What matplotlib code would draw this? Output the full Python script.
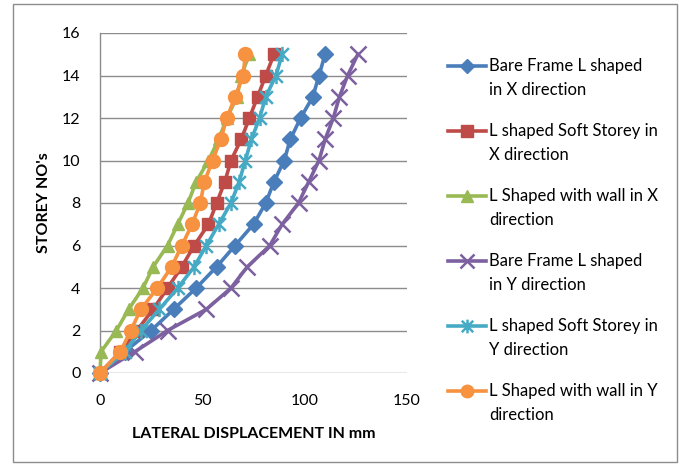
import matplotlib
matplotlib.use("Agg")
import matplotlib.pyplot as plt
from matplotlib.patches import Rectangle
from matplotlib.lines import Line2D
from matplotlib.path import Path

plt.rcParams['font.family'] = ['Lato', 'DejaVu Sans']

storeys = list(range(16))

bare_x = [0, 12, 25, 36, 47, 57, 66, 75, 81, 85, 90, 93, 98, 104, 107, 110]
soft_x = [0, 10, 18, 26, 33, 40, 46, 53, 57, 61, 64, 69, 73, 77, 81, 85]
wall_x = [0, 0.5, 8, 14, 21, 26, 33, 38, 43, 47, 53, 58, 62, 67, 69, 73]
bare_y = [0, 17, 33, 52, 64, 72, 83, 89, 97, 102, 107, 110, 114, 117, 121, 126]
soft_y = [0, 12, 20, 29, 38, 46, 52, 58, 64, 68, 71, 74, 78, 81, 86, 89]
wall_y = [0, 10, 15, 20, 28, 35, 40, 45, 49, 51, 55, 59, 62, 66, 70, 71]

labels = [
    ("Bare Frame L shaped", "in X direction"),
    ("L shaped Soft Storey in", "X direction"),
    ("L Shaped with wall in X", "direction"),
    ("Bare Frame L shaped", "in Y direction"),
    ("L shaped Soft Storey in", "Y direction"),
    ("L Shaped with wall in Y", "direction"),
]

x_ticks = [0, 50, 100, 150]
y_ticks = list(range(0, 17, 2))

# star marker: an x with a vertical stroke through it
star = Path([(-1, -1), (1, 1), (-1, 1), (1, -1), (0, -1.2), (0, 1.2)],
            [Path.MOVETO, Path.LINETO, Path.MOVETO, Path.LINETO,
             Path.MOVETO, Path.LINETO])

series = [bare_x, soft_x, wall_x, bare_y, soft_y, wall_y]
colors = ['#4A7EBB', '#BE4B48', '#98B954', '#7D60A0', '#46AAC5', '#F69240']
markers = ['D', 's', '^', 'x', star, 'o']
msizes = [8, 9, 9, 11, 11, 10]
thin = ['x', 'star']

W, H = 683, 466
fig = plt.figure(figsize=(W / 100, H / 100), dpi=100)
ax = fig.add_axes([100 / W, 93 / H, 307 / W, 340 / H])


def marker_style(c, m, ms):
    stroke = (m is star) or (m == 'x')
    return dict(marker=m, markersize=ms,
                markeredgewidth=1.8 if stroke else 1.0,
                markeredgecolor=c, markerfacecolor=c)


for vals, c, m, ms in zip(series, colors, markers, msizes):
    ax.plot(vals, storeys, color=c, lw=2.6, clip_on=False, zorder=3,
            **marker_style(c, m, ms))

ax.set_xlim(0, 150)
ax.set_ylim(0, 16)
ax.set_xticks(x_ticks)
ax.set_yticks(y_ticks)
ax.tick_params(axis='both', length=0, labelsize=11.5, colors='#000000')
ax.tick_params(axis='x', pad=15)
ax.tick_params(axis='y', pad=14)
ax.yaxis.grid(True, color='#8c8c8c', lw=1)
ax.set_axisbelow(True)
for s in ['top', 'right', 'bottom']:
    ax.spines[s].set_visible(False)
ax.spines['left'].set_color('#8c8c8c')
ax.spines['left'].set_linewidth(1)

ax.set_xlabel("LATERAL DISPLACEMENT IN mm", fontsize=11.5, fontweight='bold', labelpad=14)
ax.set_ylabel("STOREY NO's", fontsize=11.5, fontweight='bold', labelpad=8)

# legend beside the plot, each handle level with the first text line
for i, ((l1, l2), c, m, ms) in enumerate(zip(labels, colors, markers, msizes)):
    y0 = 1 - (66 + 65 * i) / H
    fig.add_artist(Line2D([448 / W, 486 / W], [y0, y0], transform=fig.transFigure,
                          color=c, lw=2.6))
    fig.add_artist(Line2D([467 / W], [y0], transform=fig.transFigure,
                          linestyle='none', **marker_style(c, m, ms * 0.9)))
    fig.text(489 / W, y0, l1, fontsize=12, va='center', ha='left')
    fig.text(489 / W, y0 - 24 / H, l2, fontsize=12, va='center', ha='left')

fig.patches.append(Rectangle((13 / W, 4 / H), 664 / W, 458 / H,
                             transform=fig.transFigure, fill=False,
                             edgecolor='#8c8c8c', lw=1))

fig.savefig("out.png", dpi=100)
